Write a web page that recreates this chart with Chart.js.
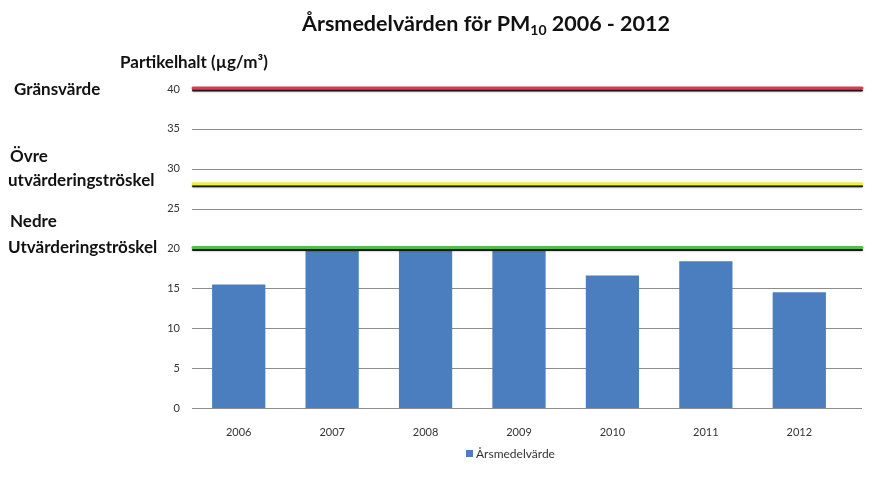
<!DOCTYPE html>
<html><head><meta charset="utf-8">
<script src="https://cdn.jsdelivr.net/npm/chart.js@4"></script>
<style>html,body{margin:0;padding:0;background:#fff}#wrap{width:876px;height:480px;position:relative}</style>
</head><body><div id="wrap"><canvas id="c"></canvas></div>
<script>
const years = ['2006','2007','2008','2009','2010','2011','2012'];
const annualMeans = [15.5, 20, 20, 20, 16.6, 18.4, 14.5];
const seriesLabel = 'Årsmedelvärde';
const yTicks = [0,5,10,15,20,25,30,35,40];
const thresholdValues = [40, 28, 20];
const thresholdColors = ['#dc3a52', '#f2ee3c', '#4fc04c'];
const thresholdLabels = [['Gränsvärde'], ['Övre','utvärderingströskel'], ['Nedre','Utvärderingströskel']];
const titleMain = 'Årsmedelvärden för PM';
const titleSub = '10';
const titleEnd = ' 2006 - 2012';
const yTitle = 'Partikelhalt (µg/m³)';

const FONT = 'Lato, "Open Sans", sans-serif';
const EXTEND = 16;

const decor = {
  id: 'decor',
  beforeDatasetsDraw(chart) {
    const ctx = chart.ctx, a = chart.chartArea, y = chart.scales.y;
    ctx.save();
    ctx.strokeStyle = '#8c8c8c';
    ctx.lineWidth = 1;
    y.ticks.forEach(t => {
      const py = Math.round(y.getPixelForValue(t.value)) + 0.5;
      ctx.beginPath(); ctx.moveTo(a.left, py); ctx.lineTo(a.right + EXTEND, py); ctx.stroke();
    });
    ctx.restore();
  },
  afterDatasetsDraw(chart) {
    const ctx = chart.ctx, a = chart.chartArea, y = chart.scales.y;
    ctx.save();
    ctx.lineCap = 'round';
    thresholdValues.forEach((v, i) => {
      const py = y.getPixelForValue(v);
      ctx.shadowColor = 'rgba(0,0,0,0.5)';
      ctx.shadowBlur = 2;
      ctx.strokeStyle = '#1a1a1a';
      ctx.lineWidth = 2;
      ctx.beginPath(); ctx.moveTo(a.left + 1, py + 1.5); ctx.lineTo(a.right + EXTEND, py + 1.5); ctx.stroke();
      ctx.shadowBlur = 0; ctx.shadowColor = 'transparent';
      ctx.strokeStyle = thresholdColors[i];
      ctx.lineWidth = 3;
      ctx.beginPath(); ctx.moveTo(a.left + 1, py - 1); ctx.lineTo(a.right + EXTEND, py - 1); ctx.stroke();
    });
    // left labels
    ctx.fillStyle = '#111';
    ctx.font = 'bold 17px ' + FONT;
    ctx.textBaseline = 'middle';
    ctx.textAlign = 'left';
    const labelY = [[90], [157, 181], [222, 248]];
    const labelX = [[14], [10, 8], [10, 8]];
    thresholdLabels.forEach((lines, i) => {
      lines.forEach((s, j) => ctx.fillText(s, labelX[i][j], labelY[i][j]));
    });
    // y axis title
    ctx.fillText(yTitle, 120, 63);
    // title
    ctx.textBaseline = 'alphabetic';
    const big = 'bold 21.5px ' + FONT, small = 'bold 14px ' + FONT;
    ctx.font = big;
    const w1 = ctx.measureText(titleMain).width;
    const w3 = ctx.measureText(titleEnd).width;
    ctx.font = small;
    const w2 = ctx.measureText(titleSub).width;
    let x0 = 486 - (w1 + w2 + w3) / 2;
    ctx.font = big;
    ctx.fillText(titleMain, x0, 31);
    ctx.fillText(titleEnd, x0 + w1 + w2, 31);
    ctx.font = small;
    ctx.fillText(titleSub, x0 + w1, 35);
    // legend
    const ds = chart.data.datasets[0];
    ctx.font = '12px ' + FONT;
    ctx.textBaseline = 'middle';
    ctx.fillStyle = ds.backgroundColor;
    ctx.fillRect(466, 450, 7, 7);
    ctx.fillStyle = '#333';
    ctx.fillText(ds.label, 476, 454);
    ctx.restore();
  }
};

new Chart(document.getElementById('c'), {
  type: 'bar',
  data: {
    labels: years,
    datasets: [{
      label: seriesLabel,
      data: annualMeans,
      backgroundColor: '#4a7ebf',
      categoryPercentage: 1,
      barPercentage: 0.57
    }]
  },
  options: {
    responsive: true,
    maintainAspectRatio: false,
    animation: false,
    layout: { padding: { top: 89, right: 30, left: 0, bottom: 0 } },
    plugins: { legend: { display: false }, tooltip: { enabled: false } },
    scales: {
      x: {
        grid: { display: false, drawTicks: false },
        border: { display: false },
        ticks: { color: '#333', font: { family: FONT, size: 11 }, padding: 18 },
        afterFit(s) { s.height = 72; }
      },
      y: {
        min: 0, max: 40,
        afterBuildTicks(s) { s.ticks = yTicks.map(v => ({ value: v })); },
        grid: { display: false, drawTicks: false },
        border: { display: false },
        ticks: { color: '#333', font: { family: FONT, size: 11 }, padding: 12 },
        afterFit(s) { s.width = 192; }
      }
    }
  },
  plugins: [decor]
});
</script></body></html>
